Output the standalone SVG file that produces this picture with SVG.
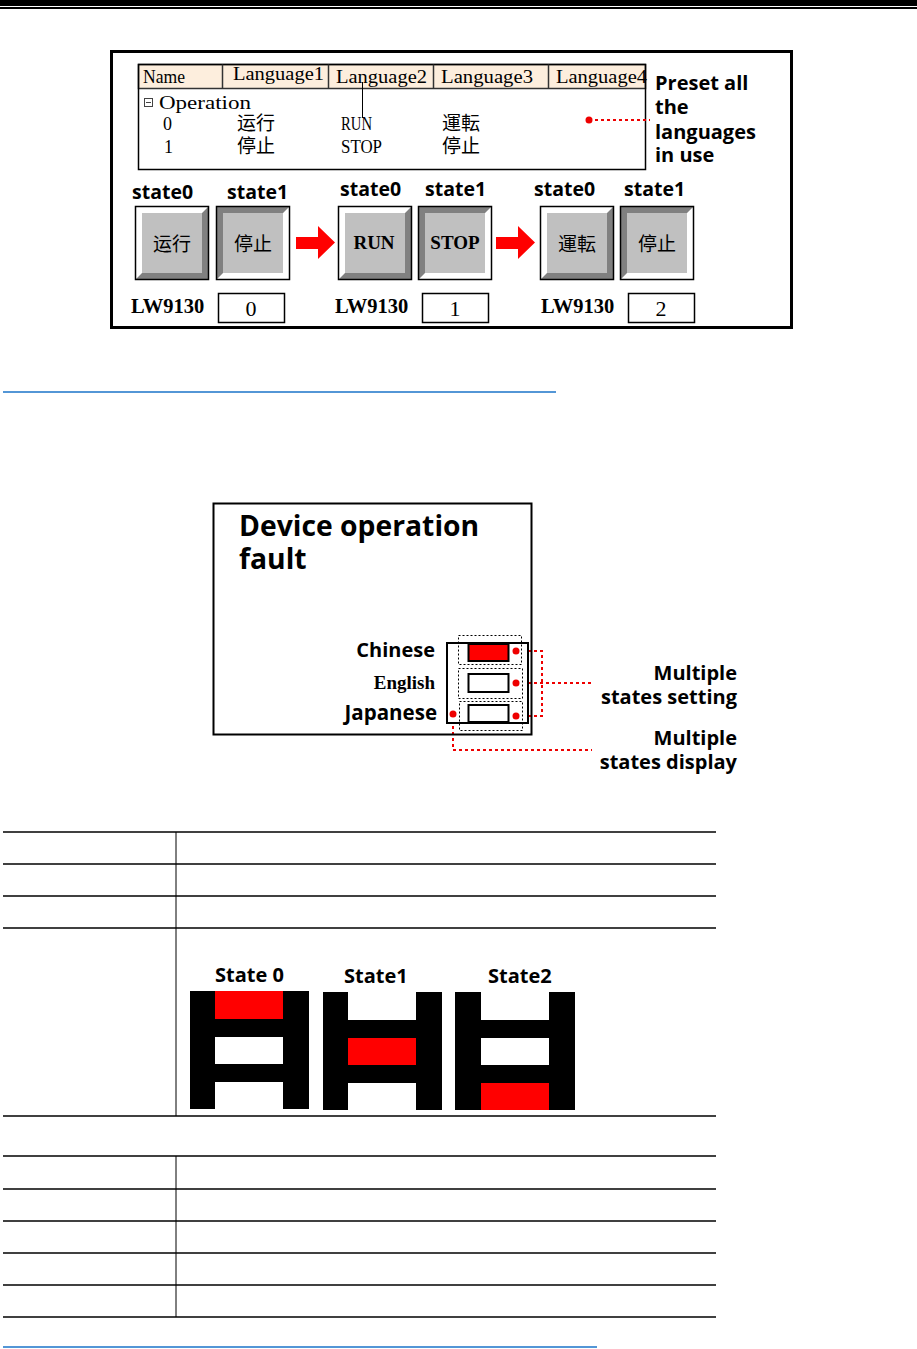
<svg xmlns="http://www.w3.org/2000/svg" xmlns:xlink="http://www.w3.org/1999/xlink" width="917" height="1349" viewBox="0 0 917 1349">
<style>
.mono{font-family:"Liberation Serif",serif;font-size:18px;fill:#000}
.cjk{font-family:"Noto Sans CJK SC",sans-serif;font-size:19px;fill:#000}
.bs{font-family:"Open Sans","Noto Sans",sans-serif;font-weight:bold;fill:#000}
.bser{font-family:"Liberation Serif",serif;font-weight:bold;fill:#000}
.ser{font-family:"Liberation Serif",serif;fill:#000}
.tline{stroke:#000;stroke-width:1.5}
.dash{fill:none;stroke:#000;stroke-width:1;stroke-dasharray:2,2}
.red{fill:none;stroke:#e00;stroke-width:2;stroke-dasharray:3,3}
.dot{fill:#e00}
.blue{stroke:#1a73c8;stroke-width:1.5}
</style>
<defs>
<g id="btnUp">
<rect x="0" y="0" width="74" height="74" fill="#808080"/>
<polygon points="0,0 74,0 67,7 7,7 7,67 0,74" fill="#fff"/>
<rect x="7" y="7" width="60" height="60" fill="#c0c0c0"/>
<rect x="0.5" y="0.5" width="73" height="73" fill="none" stroke="#000" stroke-width="1.5"/>
</g>
<g id="btnDown">
<rect x="0" y="0" width="74" height="74" fill="#fff"/>
<polygon points="0,0 74,0 67,7 7,7 7,67 0,74" fill="#808080"/>
<rect x="7" y="7" width="60" height="60" fill="#c0c0c0"/>
<rect x="0.5" y="0.5" width="73" height="73" fill="none" stroke="#000" stroke-width="1.5"/>
</g>
</defs>
<rect width="917" height="1349" fill="#fff"/>
<!-- header bars -->
<rect x="0" y="0" width="917" height="6" fill="#000"/>
<rect x="0" y="7" width="917" height="2" fill="#000"/>

<!-- Top figure -->
<g id="frame1">
<rect x="111.5" y="51.5" width="680" height="276" fill="none" stroke="#000" stroke-width="3"/>
</g>
<g id="langTable">
<rect x="138.5" y="64.5" width="507" height="24" fill="#fdeedd" stroke="#333" stroke-width="1.5"/>
<rect x="138.5" y="64.5" width="507" height="105" fill="none" stroke="#000" stroke-width="1.5"/>
<line x1="222.5" y1="64.5" x2="222.5" y2="88.5" stroke="#333" stroke-width="1.5"/>
<line x1="328.5" y1="64.5" x2="328.5" y2="88.5" stroke="#333" stroke-width="1.5"/>
<line x1="433.5" y1="64.5" x2="433.5" y2="88.5" stroke="#333" stroke-width="1.5"/>
<line x1="548.5" y1="64.5" x2="548.5" y2="88.5" stroke="#333" stroke-width="1.5"/>
<text class="mono" x="143" y="83" textLength="42" lengthAdjust="spacingAndGlyphs">Name</text>
<text class="mono" x="233" y="80" textLength="91" lengthAdjust="spacingAndGlyphs">Language1</text>
<text class="mono" x="336" y="83" textLength="91" lengthAdjust="spacingAndGlyphs">Language2</text>
<text class="mono" x="441" y="83" textLength="92" lengthAdjust="spacingAndGlyphs">Language3</text>
<text class="mono" x="556" y="83" textLength="91" lengthAdjust="spacingAndGlyphs">Language4</text>
<rect x="144.5" y="98.5" width="8" height="8" fill="none" stroke="#444" stroke-width="1"/>
<line x1="146" y1="102.5" x2="151" y2="102.5" stroke="#444" stroke-width="1"/>
<text class="mono" x="159" y="109" textLength="92" lengthAdjust="spacingAndGlyphs">Operation</text>
<text class="mono" x="163" y="130">0</text>
<text class="cjk" x="237" y="130">运行</text>
<text class="mono" x="341" y="130" textLength="31" lengthAdjust="spacingAndGlyphs">RUN</text>
<text class="cjk" x="442" y="130">運転</text>
<text class="mono" x="164" y="153">1</text>
<text class="cjk" x="237" y="153">停止</text>
<text class="mono" x="341" y="153" textLength="41" lengthAdjust="spacingAndGlyphs">STOP</text>
<text class="cjk" x="442" y="153">停止</text>
<line x1="362.5" y1="82" x2="362.5" y2="118" stroke="#000" stroke-width="1"/>
</g>
<g id="presetNote">
<text class="bs" font-size="20"><tspan x="655" y="90">Preset all</tspan><tspan x="655" y="114">the</tspan><tspan x="655" y="139">languages</tspan><tspan x="655" y="162">in use</tspan></text>
</g>

<g id="stateLabels1">
<text class="bs" font-size="19.5" x="132" y="199">state0</text>
<text class="bs" font-size="19.5" x="227" y="199">state1</text>
<text class="bs" font-size="19.5" x="340" y="196">state0</text>
<text class="bs" font-size="19.5" x="425" y="196">state1</text>
<text class="bs" font-size="19.5" x="534" y="196">state0</text>
<text class="bs" font-size="19.5" x="624" y="196">state1</text>
</g>
<g id="btnCN0"><use xlink:href="#btnUp" x="135" y="206"/><text class="cjk" font-size="20" x="172" y="251" text-anchor="middle">运行</text></g>
<g id="btnCN1"><use xlink:href="#btnDown" x="216" y="206"/><text class="cjk" font-size="20" x="253" y="251" text-anchor="middle">停止</text></g>
<g id="btnEN0"><use xlink:href="#btnUp" x="338" y="206"/><text class="bser" font-size="19" x="374" y="249" text-anchor="middle">RUN</text></g>
<g id="btnEN1"><use xlink:href="#btnDown" x="418" y="206"/><text class="bser" font-size="19" x="455" y="249" text-anchor="middle">STOP</text></g>
<g id="btnJP0"><use xlink:href="#btnUp" x="540" y="206"/><text class="cjk" font-size="20" x="577" y="251" text-anchor="middle">運転</text></g>
<g id="btnJP1"><use xlink:href="#btnDown" x="620" y="206"/><text class="cjk" font-size="20" x="657" y="251" text-anchor="middle">停止</text></g>

<g id="lw0"><text class="bser" font-size="20.5" x="131" y="313">LW9130</text><rect x="218.5" y="293.5" width="66" height="29" fill="#fff" stroke="#000" stroke-width="1.5"/><text class="ser" font-size="22" x="251" y="316" text-anchor="middle">0</text></g>
<g id="lw1"><text class="bser" font-size="20.5" x="335" y="313">LW9130</text><rect x="422.5" y="293.5" width="66" height="29" fill="#fff" stroke="#000" stroke-width="1.5"/><text class="ser" font-size="22" x="455" y="316" text-anchor="middle">1</text></g>
<g id="lw2"><text class="bser" font-size="20.5" x="541" y="313">LW9130</text><rect x="628.5" y="293.5" width="66" height="29" fill="#fff" stroke="#000" stroke-width="1.5"/><text class="ser" font-size="22" x="661" y="316" text-anchor="middle">2</text></g>

<g id="connectors">
<polygon points="296,237 318,237 318,226 335,242.5 318,259 318,249 296,249" fill="#f00"/>
<polygon points="496,237 518,237 518,226 535,242.5 518,259 518,249 496,249" fill="#f00"/>
<line class="red" x1="589" y1="120" x2="650" y2="120"/>
<circle class="dot" cx="589" cy="120" r="3.5"/>
<polyline class="red" points="516,651 542,651 542,716 516,716"/>
<line class="red" x1="516" y1="683" x2="592" y2="683"/>
<polyline class="red" points="453,714 453,750 592,750"/>
</g>

<line class="blue" x1="3" y1="392" x2="556" y2="392"/>

<!-- Second figure -->
<g id="frame2">
<rect x="213.5" y="503.5" width="318" height="231" fill="none" stroke="#000" stroke-width="2"/>
<text class="bs" font-size="28.3"><tspan x="239" y="536">Device operation</tspan><tspan x="239" y="569">fault</tspan></text>
<text class="bs" font-size="20" x="435" y="657" text-anchor="end">Chinese</text>
<text class="bser" font-size="19" x="435" y="689" text-anchor="end">English</text>
<text class="bs" font-size="20.5" x="437" y="720" text-anchor="end">Japanese</text>
</g>
<g id="multiStateSwitch">
<rect x="447" y="643" width="81" height="80" fill="#fff" stroke="#000" stroke-width="2"/>
<rect class="dash" x="458.5" y="635.5" width="63" height="29"/>
<rect class="dash" x="458.5" y="668.5" width="64" height="30"/>
<rect class="dash" x="459.5" y="701.5" width="63" height="29"/>
<rect x="468.5" y="644" width="40" height="17" fill="#f00" stroke="#000" stroke-width="2"/>
<rect x="468.5" y="674" width="40" height="18" fill="#fff" stroke="#000" stroke-width="2"/>
<rect x="468.5" y="705" width="40" height="17" fill="#fff" stroke="#000" stroke-width="2"/>
<circle class="dot" cx="516" cy="651" r="3.5"/>
<circle class="dot" cx="516" cy="683" r="3.5"/>
<circle class="dot" cx="516" cy="716" r="3.5"/>
<circle class="dot" cx="453" cy="714" r="3.5"/>
</g>
<g id="noteSetting"><text class="bs" font-size="20" text-anchor="end"><tspan x="737" y="680">Multiple</tspan><tspan x="737" y="704">states setting</tspan></text></g>
<g id="noteDisplay"><text class="bs" font-size="20" text-anchor="end"><tspan x="737" y="745">Multiple</tspan><tspan x="737" y="769">states display</tspan></text></g>

<!-- Table 1 -->
<g id="table1">
<line class="tline" x1="3" y1="832" x2="716" y2="832"/>
<line class="tline" x1="3" y1="864" x2="716" y2="864"/>
<line class="tline" x1="3" y1="896" x2="716" y2="896"/>
<line class="tline" x1="3" y1="928" x2="716" y2="928"/>
<line class="tline" x1="3" y1="1116" x2="716" y2="1116"/>
<line x1="176" y1="832" x2="176" y2="1116" stroke="#000" stroke-width="1"/>
</g>
<g id="state0">
<text class="bs" font-size="20" x="215" y="982">State 0</text>
<rect x="190" y="991" width="119" height="118" fill="#000"/>
<rect x="215" y="991" width="68" height="28" fill="#f00"/>
<rect x="215" y="1037" width="68" height="27" fill="#fff"/>
<rect x="215" y="1082" width="68" height="27" fill="#fff"/>
</g>
<g id="state1">
<text class="bs" font-size="20" x="344" y="983">State1</text>
<rect x="323" y="992" width="119" height="118" fill="#000"/>
<rect x="348" y="992" width="68" height="28" fill="#fff"/>
<rect x="348" y="1038" width="68" height="27" fill="#f00"/>
<rect x="348" y="1083" width="68" height="27" fill="#fff"/>
</g>
<g id="state2">
<text class="bs" font-size="20" x="488" y="983">State2</text>
<rect x="455" y="992" width="120" height="118" fill="#000"/>
<rect x="481" y="992" width="68" height="28" fill="#fff"/>
<rect x="481" y="1038" width="68" height="27" fill="#fff"/>
<rect x="481" y="1083" width="68" height="27" fill="#f00"/>
</g>

<!-- Table 2 -->
<g id="table2">
<line class="tline" x1="3" y1="1156" x2="716" y2="1156"/>
<line class="tline" x1="3" y1="1189" x2="716" y2="1189"/>
<line class="tline" x1="3" y1="1221" x2="716" y2="1221"/>
<line class="tline" x1="3" y1="1253" x2="716" y2="1253"/>
<line class="tline" x1="3" y1="1285" x2="716" y2="1285"/>
<line class="tline" x1="3" y1="1317" x2="716" y2="1317"/>
<line x1="176" y1="1156" x2="176" y2="1317" stroke="#000" stroke-width="1"/>
</g>
<line class="blue" x1="3" y1="1347" x2="597" y2="1347"/>
</svg>
